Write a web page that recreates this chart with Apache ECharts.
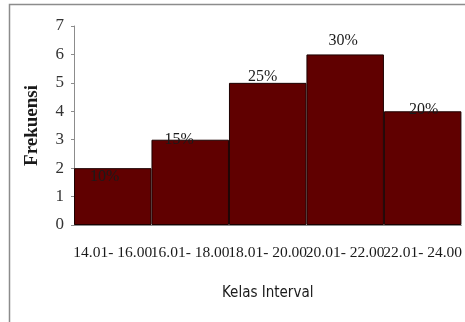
<!DOCTYPE html>
<html>
<head>
<meta charset="utf-8">
<style>
  html, body { margin: 0; padding: 0; background: #fff; }
  #chart { width: 465px; height: 322px; }
</style>
<script src="https://cdn.jsdelivr.net/npm/echarts@6/dist/echarts.min.js"></script>
</head>
<body>
<div id="chart"></div>
<script>
// Frequency of each class interval
const categories = ['14.01- 16.00', '16.01- 18.00', '18.01- 20.00', '20.01- 22.00', '22.01- 24.00'];
const frequencies = [2, 3, 5, 6, 4];
const percentLabels = ['10%', '15%', '25%', '30%', '20%'];
const yTicks = [0, 1, 2, 3, 4, 5, 6, 7];

// label nudges so each percentage sits where it was typeset
const labelOffsets = [[-8, 17], [-11, 8], [-5, 2], [-2, -6], [1, 7]];

const serif = "'Liberation Serif', 'Times New Roman', serif";

const chart = echarts.init(document.getElementById('chart'), null, { renderer: 'canvas' });

chart.setOption({
  animation: false,
  backgroundColor: '#ffffff',
  graphic: [{
    type: 'polyline',
    shape: { points: [[9.5, 322], [9.5, 4.5], [465, 4.5]] },
    style: { stroke: '#8c8c8c', lineWidth: 1.5, fill: null },
    silent: true
  }],
  grid: { left: 74, right: 3, top: 26, bottom: 97 },
  xAxis: {
    type: 'category',
    data: categories,
    name: 'Kelas Interval',
    nameLocation: 'middle',
    nameGap: 61,
    nameTextStyle: {
      fontFamily: "'Liberation Sans Narrow', 'DejaVu Sans Condensed', sans-serif",
      fontSize: 15,
      color: '#1a1a1a'
    },
    axisLine: { show: true, lineStyle: { color: '#8c8c8c', width: 1 } },
    axisTick: { show: false },
    axisLabel: {
      interval: 0,
      margin: 20,
      fontFamily: serif,
      fontSize: 15.5,
      color: '#1a1a1a'
    }
  },
  yAxis: {
    type: 'value',
    min: yTicks[0],
    max: yTicks[yTicks.length - 1],
    interval: 1,
    name: 'Frekuensi',
    nameLocation: 'middle',
    nameGap: 32,
    nameRotate: 90,
    nameTextStyle: {
      fontFamily: serif,
      fontSize: 19,
      fontWeight: 'bold',
      color: '#1a1a1a'
    },
    axisLine: { show: true, lineStyle: { color: '#8c8c8c', width: 1 } },
    axisTick: { show: true, length: 3, lineStyle: { color: '#8c8c8c' } },
    splitLine: { show: false },
    axisLabel: {
      margin: 10,
      fontFamily: serif,
      fontSize: 17,
      color: '#333'
    }
  },
  series: [{
    type: 'bar',
    barCategoryGap: '0%',
    data: frequencies.map((v, i) => ({
      value: v,
      label: {
        show: true,
        position: 'top',
        distance: 0,
        offset: labelOffsets[i],
        formatter: percentLabels[i]
      }
    })),
    itemStyle: { color: '#600000', borderColor: '#1c0000', borderWidth: 1 },
    label: {
      fontFamily: serif,
      fontSize: 16,
      color: '#1a1a1a'
    }
  }]
});
</script>
</body>
</html>
